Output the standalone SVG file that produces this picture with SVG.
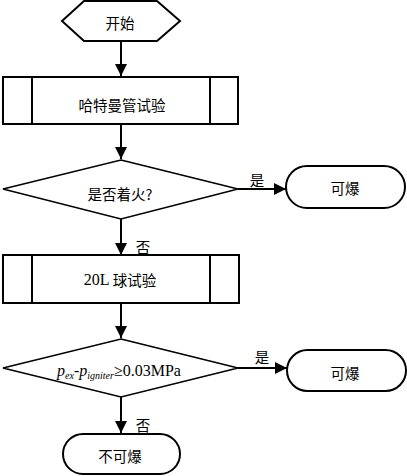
<svg xmlns="http://www.w3.org/2000/svg" width="407" height="476" viewBox="0 0 407 476">
<style>
.s{fill:#fff;stroke:#000;stroke-width:2}
.d{fill:#fff;stroke:#000;stroke-width:1.6}
.c{fill:none;stroke:#000;stroke-width:2}
.t{font-family:"Noto Sans CJK SC","Liberation Sans",sans-serif;font-size:14.5px;fill:#000;text-anchor:middle;dominant-baseline:central}
.f{font-family:"Liberation Serif","Noto Sans CJK SC",serif;font-size:16px;fill:#000;text-anchor:middle}
</style>
<defs>
<marker id="ah" markerUnits="userSpaceOnUse" markerWidth="12" markerHeight="12" viewBox="0 0 12 12" refX="12" refY="6" orient="auto">
<path d="M0,0 L12,6 L0,12 Z" fill="#000"/>
</marker>
</defs>
<g id="connectors">
<line class="c" x1="121" y1="42" x2="121" y2="76" marker-end="url(#ah)"/>
<line class="c" x1="121" y1="124" x2="121" y2="159" marker-end="url(#ah)"/>
<line class="c" x1="238" y1="189" x2="286" y2="189" marker-end="url(#ah)"/>
<line class="c" x1="121" y1="219" x2="121" y2="255" marker-end="url(#ah)"/>
<line class="c" x1="121" y1="303" x2="121" y2="338" marker-end="url(#ah)"/>
<line class="c" x1="238" y1="368" x2="287" y2="368" marker-end="url(#ah)"/>
<line class="c" x1="121" y1="397" x2="121" y2="433" marker-end="url(#ah)"/>
<text class="t" x="257" y="179">是</text>
<text class="t" x="143" y="246">否</text>
<text class="t" x="262" y="356">是</text>
<text class="t" x="143" y="424">否</text>
</g>
<g id="start">
<polygon class="s" points="84,1 157,1 180,21 157,41 84,41 62,21"/>
<text class="t" x="120" y="22">开始</text>
</g>
<g id="hartmann">
<rect class="s" x="3" y="77" width="235" height="47"/>
<line class="c" x1="32" y1="77" x2="32" y2="124" stroke-width="1.5"/>
<line class="c" x1="210" y1="77" x2="210" y2="124"/>
<text class="t" x="122" y="104">哈特曼管试验</text>
</g>
<g id="decision1">
<polygon class="d" points="121,160 238,189 121,219 3,189"/>
<text class="t" x="120" y="193">是否着火?</text>
</g>
<g id="explode1">
<rect class="s" x="286" y="166" width="119" height="42" rx="21" ry="21"/>
<text class="t" x="345" y="187">可爆</text>
</g>
<g id="sphere">
<rect class="s" x="3" y="255" width="236" height="48"/>
<line class="c" x1="32" y1="255" x2="32" y2="303" stroke-width="1.5"/>
<line class="c" x1="210" y1="255" x2="210" y2="303"/>
<text class="t" x="120" y="279"><tspan font-family="Liberation Serif, serif" font-size="16">20L</tspan> 球试验</text>
</g>
<g id="decision2">
<polygon class="d" points="121,339 238,368 121,397 3,368"/>
<text class="f" x="119" y="376"><tspan font-style="italic">p</tspan><tspan font-style="italic" font-size="10" dy="3">ex</tspan><tspan dy="-3">-</tspan><tspan font-style="italic">p</tspan><tspan font-style="italic" font-size="10" dy="3">igniter</tspan><tspan dy="-3">≥0.03MPa</tspan></text>
</g>
<g id="explode2">
<rect class="s" x="287" y="350" width="119" height="41" rx="20.5" ry="20.5"/>
<text class="t" x="345" y="372">可爆</text>
</g>
<g id="notexplode">
<rect class="s" x="63" y="434" width="117" height="40" rx="20" ry="20"/>
<text class="t" x="120" y="455">不可爆</text>
</g>
</svg>
